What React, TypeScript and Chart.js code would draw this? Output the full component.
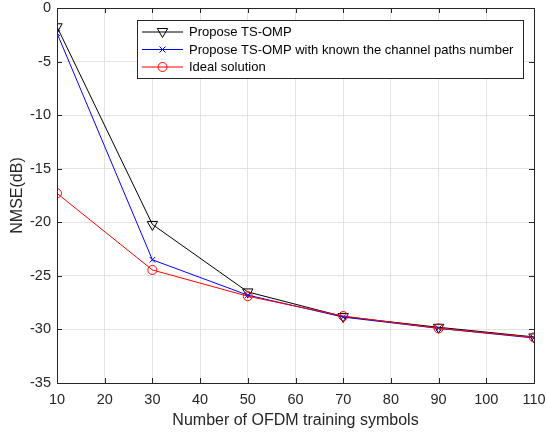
import React, { useEffect, useRef } from "react";
import { Chart, registerables } from "chart.js";

Chart.register(...registerables);

const xValues = [10, 30, 50, 70, 90, 110];
const tsOmp = [-1.75, -20.2, -26.5, -28.8, -29.8, -30.7];
const tsOmpKnown = [-2.35, -23.5, -26.8, -28.85, -29.9, -30.8];
const ideal = [-17.3, -24.45, -26.9, -28.75, -29.9, -30.75];
const seriesNames = [
  "Propose TS-OMP",
  "Propose TS-OMP with known the channel paths number",
  "Ideal solution",
];
const xTitle = "Number of OFDM training symbols";
const yTitle = "NMSE(dB)";

const AX = "#262626";
const FONT = "'Liberation Sans', Arial, sans-serif";

const toPts = (ys: number[]) => xValues.map((x, i) => ({ x, y: ys[i] }));

const zeroPad = (s: any) => {
  s.paddingTop = 0;
  s.paddingBottom = 0;
  s.paddingLeft = 0;
  s.paddingRight = 0;
};

const boxPlugin = {
  id: "matlabBox",
  afterDraw(chart: any) {
    const { ctx, chartArea: a, scales } = chart;
    ctx.save();
    ctx.strokeStyle = AX;
    ctx.lineWidth = 1;
    const tl = 5;
    ctx.beginPath();
    scales.x.ticks.forEach((t: any) => {
      const px = Math.round(scales.x.getPixelForValue(t.value)) + 0.5;
      ctx.moveTo(px, a.bottom);
      ctx.lineTo(px, a.bottom - tl);
      ctx.moveTo(px, a.top);
      ctx.lineTo(px, a.top + tl);
    });
    scales.y.ticks.forEach((t: any) => {
      const py = Math.round(scales.y.getPixelForValue(t.value)) + 0.5;
      ctx.moveTo(a.left, py);
      ctx.lineTo(a.left + tl, py);
      ctx.moveTo(a.right, py);
      ctx.lineTo(a.right - tl, py);
    });
    ctx.stroke();
    ctx.strokeRect(Math.round(a.left) + 0.5, Math.round(a.top) + 0.5, Math.round(a.right - a.left), Math.round(a.bottom - a.top));

    // legend
    const lx = Math.round(a.left + 80);
    const ly = Math.round(a.top + 12);
    const lw = 386;
    const lh = 58;
    ctx.fillStyle = "#ffffff";
    ctx.fillRect(lx, ly, lw, lh);
    ctx.strokeStyle = AX;
    ctx.strokeRect(lx + 0.5, ly + 0.5, lw, lh);
    const colors = ["#000000", "#0000ff", "#ff0000"];
    const rows = [ly + 12, ly + 29.5, ly + 47];
    ctx.font = `13px ${FONT}`;
    ctx.textBaseline = "middle";
    rows.forEach((ry, i) => {
      ctx.strokeStyle = colors[i];
      ctx.lineWidth = 1;
      ctx.beginPath();
      ctx.moveTo(lx + 5, ry);
      ctx.lineTo(lx + 46, ry);
      ctx.stroke();
      const mx = lx + 25.5;
      ctx.beginPath();
      if (i === 0) {
        ctx.moveTo(mx - 5.2, ry - 3.5);
        ctx.lineTo(mx + 5.2, ry - 3.5);
        ctx.lineTo(mx, ry + 5.5);
        ctx.closePath();
      } else if (i === 1) {
        ctx.moveTo(mx - 3, ry - 3);
        ctx.lineTo(mx + 3, ry + 3);
        ctx.moveTo(mx + 3, ry - 3);
        ctx.lineTo(mx - 3, ry + 3);
      } else {
        ctx.arc(mx, ry, 4.5, 0, Math.PI * 2);
      }
      ctx.stroke();
      ctx.fillStyle = "#000000";
      ctx.fillText(seriesNames[i], lx + 52, ry + 0.5);
    });
    ctx.restore();
  },
};

export default function App() {
  const ref = useRef<HTMLCanvasElement>(null);
  useEffect(() => {
    const chart = new Chart(ref.current as HTMLCanvasElement, {
      type: "line",
      data: {
        datasets: [
          {
            label: seriesNames[0],
            data: toPts(tsOmp),
            borderColor: "#000000",
            backgroundColor: "rgba(0,0,0,0)",
            borderWidth: 1,
            pointStyle: "triangle",
            pointRotation: 180,
            pointRadius: 6,
            pointBorderWidth: 1,
            pointBorderColor: "#000000",
            pointBackgroundColor: "rgba(0,0,0,0)",
            order: 3,
          },
          {
            label: seriesNames[1],
            data: toPts(tsOmpKnown),
            borderColor: "#0000ff",
            backgroundColor: "rgba(0,0,0,0)",
            borderWidth: 1,
            pointStyle: "crossRot",
            pointRadius: 4,
            pointBorderWidth: 1,
            pointBorderColor: "#0000ff",
            order: 2,
          },
          {
            label: seriesNames[2],
            data: toPts(ideal),
            borderColor: "#ff0000",
            backgroundColor: "rgba(0,0,0,0)",
            borderWidth: 1,
            pointStyle: "circle",
            pointRadius: 4.5,
            pointBorderWidth: 1,
            pointBorderColor: "#ff0000",
            pointBackgroundColor: "rgba(0,0,0,0)",
            order: 1,
          },
        ],
      },
      options: {
        responsive: false,
        animation: false,
        events: [],
        layout: { padding: { left: 8, top: 8, right: 13, bottom: 0 } },
        plugins: { legend: { display: false }, tooltip: { enabled: false } },
        scales: {
          x: {
            type: "linear",
            min: 10,
            max: 110,
            ticks: { stepSize: 10, color: AX, font: { family: FONT, size: 14.5 }, padding: 8 },
            grid: { color: "#e3e3e3", drawTicks: false, lineWidth: 1 },
            border: { display: false },
            title: { display: true, text: xTitle, color: AX, font: { family: FONT, size: 16 }, padding: { top: 0, bottom: 2 } },
            afterFit: (s: any) => { s.height = 49; zeroPad(s); },
          },
          y: {
            type: "linear",
            min: -35,
            max: 0,
            ticks: { stepSize: 5, color: AX, font: { family: FONT, size: 14.5 }, padding: 6 },
            grid: { color: "#e3e3e3", drawTicks: false, lineWidth: 1 },
            border: { display: false },
            title: { display: true, text: yTitle, color: AX, font: { family: FONT, size: 16 }, padding: { top: 0, bottom: 0 } },
            afterFit: (s: any) => { s.width = 49; zeroPad(s); },
          },
        },
      },
      plugins: [boxPlugin],
    } as any);
    return () => chart.destroy();
  }, []);
  return (
    <div style={{ position: "fixed", left: 0, top: 0, width: 547, height: 432, background: "#fff" }}>
      <canvas ref={ref} width={547} height={432} />
    </div>
  );
}
